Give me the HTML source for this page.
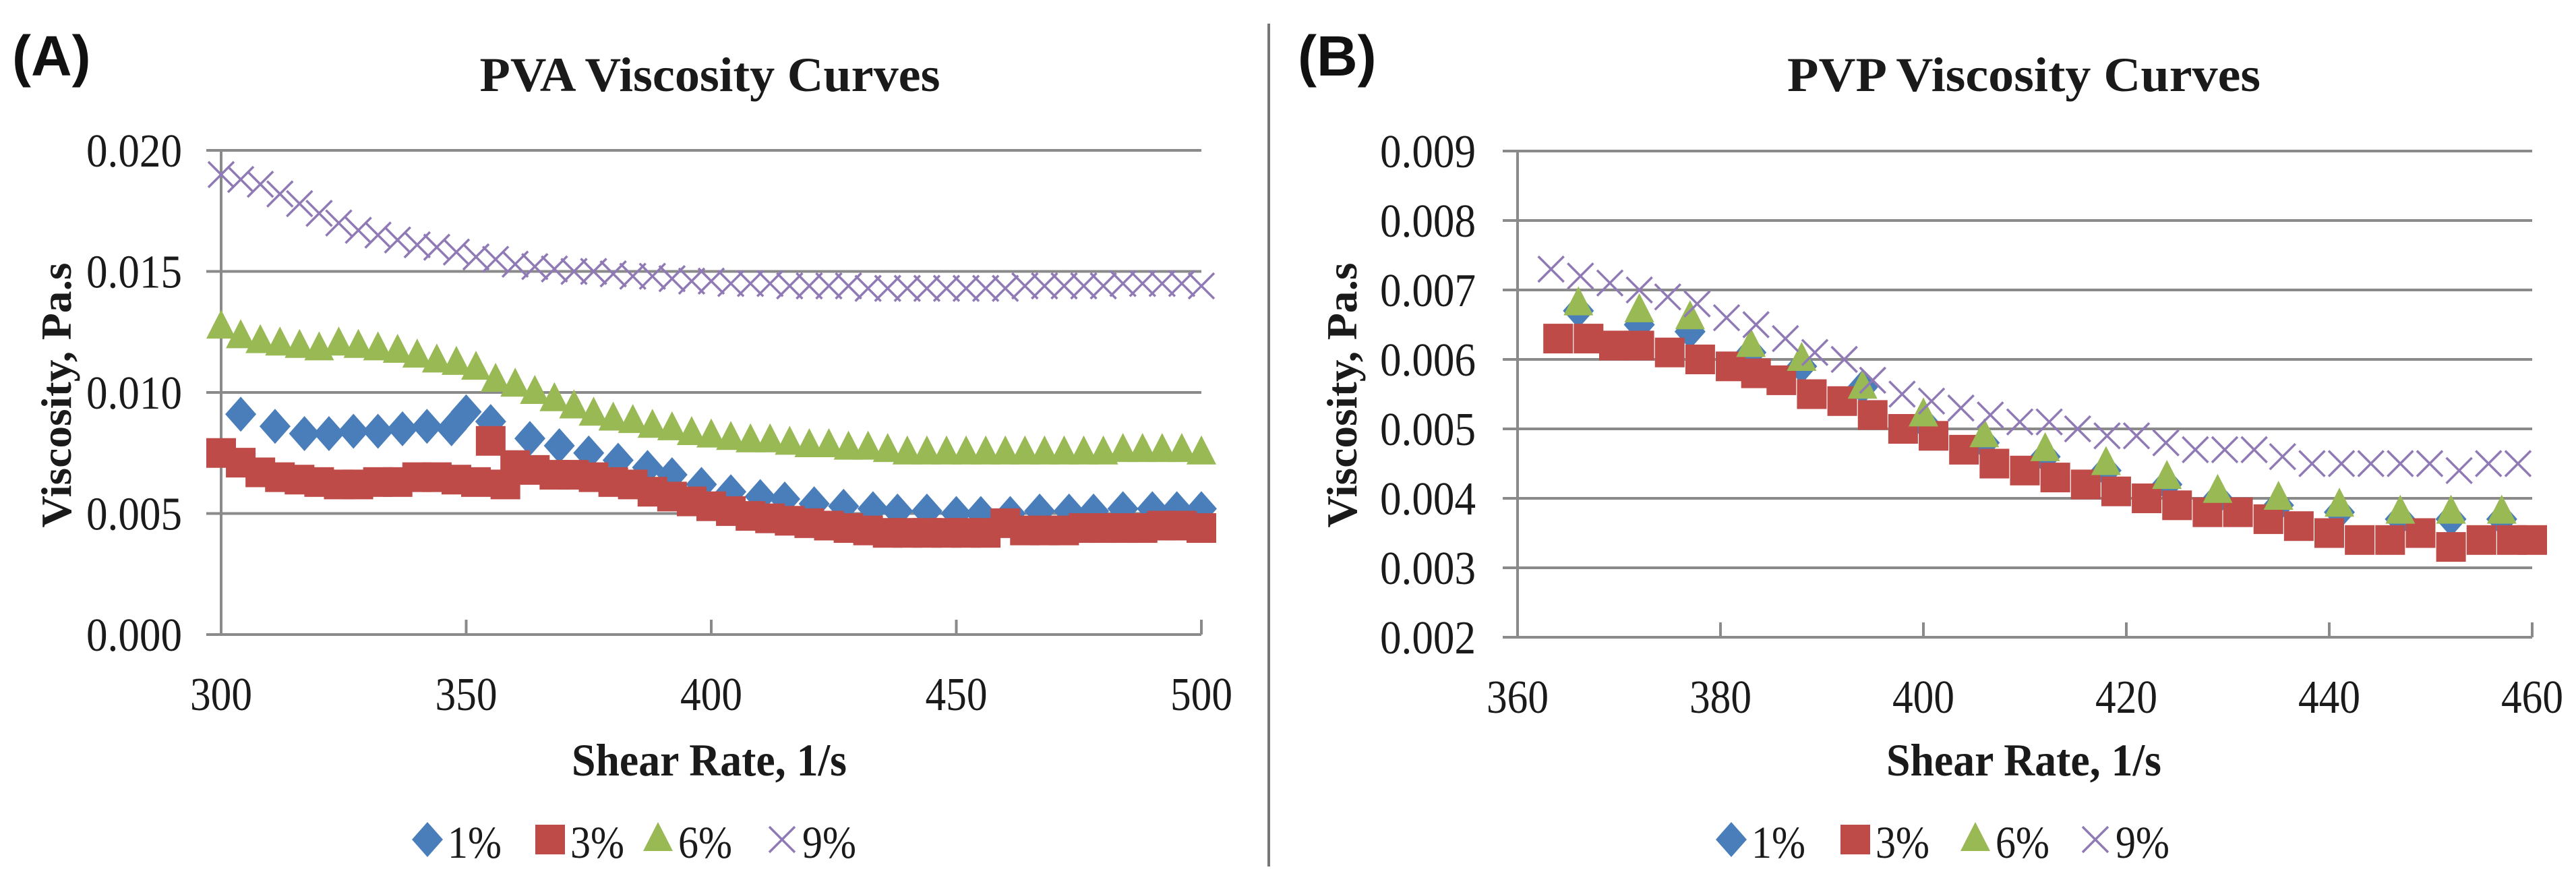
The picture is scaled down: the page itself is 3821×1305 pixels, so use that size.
<!DOCTYPE html>
<html><head><meta charset="utf-8"><style>
html,body{margin:0;padding:0;background:#fff;}
svg{display:block;}
.serif{font-family:"Liberation Serif","DejaVu Serif",serif;}
.sans{font-family:"Liberation Sans","DejaVu Sans",sans-serif;}
</style></head><body>
<svg id="fig" width="3821" height="1305" viewBox="0 0 3821 1305" xmlns="http://www.w3.org/2000/svg">
<rect width="3821" height="1305" fill="#fff"/>
<line x1="1882" y1="35" x2="1882" y2="1285" stroke="#777" stroke-width="4"/>
<text class="sans" x="18" y="112" font-weight="bold" font-size="84" fill="#111">(A)</text>
<text class="sans" x="1925" y="112" font-weight="bold" font-size="84" fill="#111">(B)</text>
<g id="chartA"></g>
<g id="chartB"></g>
</svg>
<script>
// ---- PVA data ----
const pvaXTicks = [300, 350, 400, 450, 500];
const pvaYTicks = [0.000, 0.005, 0.010, 0.015, 0.020];
const pvaYLabels = ["0.000", "0.005", "0.010", "0.015", "0.020"];
const pva1X = [304,311,317,322,327,332,337,342,347,350,355,363,369,375,381,387,392,398,404,410,415,421,427,433,438,444,450,455,461,467,473,478,484,490,495,500];
const pva1Y = [0.0091,0.0086,0.0083,0.0083,0.0084,0.0084,0.0085,0.0086,0.0085,0.0092,0.0088,0.0081,0.0078,0.0075,0.0072,0.0069,0.0066,0.0062,0.0059,0.0057,0.0056,0.0054,0.0053,0.0052,0.0051,0.0051,0.0050,0.0050,0.0050,0.0051,0.0051,0.0051,0.0052,0.0052,0.0052,0.0052];
const pva3X = [300,304,308,312,316,320,324,328,332,336,340,344,348,352,355,358,360,364,368,372,376,380,384,388,392,396,400,404,408,412,416,420,424,428,432,436,440,444,448,452,456,460,464,468,472,476,480,484,488,492,496,500];
const pva3Y = [0.0075,0.0071,0.0067,0.0065,0.0064,0.0063,0.0062,0.0062,0.0063,0.0063,0.0065,0.0065,0.0064,0.0063,0.0080,0.0062,0.0070,0.0068,0.0066,0.0066,0.0065,0.0063,0.0062,0.0059,0.0057,0.0055,0.0053,0.0051,0.0049,0.0048,0.0047,0.0046,0.0045,0.0044,0.0043,0.0042,0.0042,0.0042,0.0042,0.0042,0.0042,0.0046,0.0043,0.0043,0.0043,0.0044,0.0044,0.0044,0.0044,0.0045,0.0045,0.0044];
const pva6X = [300,304,308,312,316,320,324,328,332,336,340,344,348,352,356,360,364,368,372,376,380,384,388,392,396,400,404,408,412,416,420,424,428,432,436,440,444,448,452,456,460,464,468,472,476,480,484,488,492,496,500];
const pva6Y = [0.0127,0.0123,0.0121,0.0120,0.0119,0.0118,0.0120,0.0119,0.0118,0.0117,0.0115,0.0113,0.0112,0.0110,0.0105,0.0103,0.0100,0.0097,0.0094,0.0091,0.0089,0.0088,0.0086,0.0085,0.0083,0.0082,0.0081,0.0080,0.0080,0.0079,0.0078,0.0078,0.0077,0.0077,0.0076,0.0075,0.0075,0.0075,0.0075,0.0075,0.0075,0.0075,0.0075,0.0075,0.0075,0.0075,0.0076,0.0076,0.0076,0.0076,0.0075];
const pva9X = [300,304,308,312,316,320,324,328,332,336,340,344,348,352,356,360,364,368,372,376,380,384,388,392,396,400,404,408,412,416,420,424,428,432,436,440,444,448,452,456,460,464,468,472,476,480,484,488,492,496,500];
const pva9Y = [0.0190,0.0188,0.0186,0.0182,0.0178,0.0174,0.0170,0.0167,0.0165,0.0163,0.0161,0.0160,0.0158,0.0156,0.0155,0.0153,0.0152,0.0151,0.0150,0.0150,0.0149,0.0148,0.0148,0.0147,0.0146,0.0146,0.0145,0.0145,0.0145,0.0144,0.0144,0.0144,0.0144,0.0143,0.0143,0.0143,0.0143,0.0143,0.0143,0.0143,0.0143,0.0144,0.0144,0.0144,0.0144,0.0144,0.0145,0.0145,0.0145,0.0145,0.0144];
// ---- PVP data ----
const pvpXTicks = [360, 380, 400, 420, 440, 460];
const pvpYTicks = [0.002,0.003,0.004,0.005,0.006,0.007,0.008,0.009];
const pvpYLabels = ["0.002","0.003","0.004","0.005","0.006","0.007","0.008","0.009"];
const pvp16X = [366,372,377,383,388,394,400,406,412,418,424,429,435,441,447,452,457];
const pvp1Y = [0.0067,0.0065,0.0064,0.0061,0.0059,0.0056,0.0051,0.0048,0.0046,0.0044,0.0042,0.0040,0.0039,0.0038,0.0037,0.0037,0.0037];
const pvp6Y = [0.0068,0.0067,0.0066,0.0062,0.0060,0.0056,0.0052,0.0049,0.0047,0.0045,0.0043,0.0041,0.0040,0.0039,0.0038,0.0038,0.0038];
const pvp3X = [364,367,369.5,372,375,378,381,383.5,386,389,392,395,398,401,404,407,410,413,416,419,422,425,428,431,434,437,440,443,446,449,452,455,458,460];
const pvp3Y = [0.0063,0.0063,0.0062,0.0062,0.0061,0.0060,0.0059,0.0058,0.0057,0.0055,0.0054,0.0052,0.0050,0.0049,0.0047,0.0045,0.0044,0.0043,0.0042,0.0041,0.0040,0.0039,0.0038,0.0038,0.0037,0.0036,0.0035,0.0034,0.0034,0.0035,0.0033,0.0034,0.0034,0.0034];
const pvp9X = [363.3,366.2,369.1,372,374.8,377.7,380.6,383.5,386.4,389.3,392.2,395,397.9,400.8,403.7,406.6,409.5,412.4,415.2,418.1,421,423.9,426.8,429.7,432.6,435.4,438.3,441.2,444.1,447,449.9,452.8,455.7,458.6];
const pvp9Y = [0.0073,0.0072,0.0071,0.0070,0.0069,0.0068,0.0066,0.0065,0.0063,0.0061,0.0060,0.0057,0.0055,0.0054,0.0053,0.0052,0.0051,0.0051,0.0050,0.0049,0.0049,0.0048,0.0047,0.0047,0.0047,0.0046,0.0045,0.0045,0.0045,0.0045,0.0045,0.0044,0.0045,0.0045];

const NS = "http://www.w3.org/2000/svg";
const COL = {d:"#4a7ebb", s:"#be4b48", t:"#98b954", x:"#8f7ab5"};
function mk(tag, attrs, parent){
  const e = document.createElementNS(NS, tag);
  for (const k in attrs) e.setAttribute(k, attrs[k]);
  parent.appendChild(e);
  return e;
}
function marker(g, kind, cx, cy, name){
  let e;
  if (kind==="d") e = mk("polygon",{points:`${cx},${cy-26} ${cx+23},${cy} ${cx},${cy+26} ${cx-23},${cy}`,fill:COL.d},g);
  else if (kind==="s") e = mk("rect",{x:cx-22,y:cy-22,width:44,height:44,fill:COL.s},g);
  else if (kind==="t") e = mk("polygon",{points:`${cx},${cy-26} ${cx+22},${cy+17} ${cx-22},${cy+17}`,fill:COL.t},g);
  else e = mk("path",{d:`M${cx-19},${cy-19}L${cx+19},${cy+19}M${cx-19},${cy+19}L${cx+19},${cy-19}`,stroke:COL.x,"stroke-width":3.5,fill:"none"},g);
  
  
  return e;
}
function txt(g, s, x, y, size, opts){
  const e = mk("text",{x:x,y:y,"class":"serif","font-size":size,fill:"#1a1a1a"},g);
  for (const k in (opts||{})) e.setAttribute(k, opts[k]);
  e.textContent = s;
  return e;
}
function chart(gid, cfg){
  const g = document.getElementById(gid);
  const {x0,x1,y0,y1,xmin,xmax,ymin,ymax} = cfg;
  const sx = v => x0 + (v-xmin)/(xmax-xmin)*(x1-x0);
  const sy = v => y0 - (v-ymin)/(ymax-ymin)*(y0-y1);
  cfg.yTicks.forEach((v,i)=>{
    const gl = mk("line",{x1:x0-22,x2:x1,y1:sy(v),y2:sy(v),stroke:"#8a8a8a","stroke-width":4},g);
    
    
    const t = txt(g, cfg.yLabels[i], cfg.yLabelRight, sy(v)+24, 70, {"text-anchor":"end",textLength:142,lengthAdjust:"spacingAndGlyphs"});
    
    
  });
  const ax = mk("line",{x1:x0,x2:x0,y1:y1,y2:y0,stroke:"#8a8a8a","stroke-width":4},g);
  
  
  cfg.xTicks.forEach(v=>{
    const tk = mk("line",{x1:sx(v),x2:sx(v),y1:y0-22,y2:y0,stroke:"#8a8a8a","stroke-width":4},g);
    
    
    const t = txt(g, String(v), sx(v), y0+112, 70, {"text-anchor":"middle",textLength:92,lengthAdjust:"spacingAndGlyphs"});
    
    
  });
  const series = cfg.series;
  series.forEach(s=>{
    const sg = mk("g",{},g);
    
    
    s.xs.forEach((xv,i)=> marker(sg, s.kind, sx(xv), sy(s.ys[i]), 'point'));
  });
  const tt = txt(g, cfg.title, cfg.titleX, 135, 72, {"font-weight":"bold","text-anchor":"middle",textLength:cfg.titleW,lengthAdjust:"spacingAndGlyphs"});
  
  
  const xt = txt(g, "Shear Rate, 1/s", cfg.xTitleX, 1150, 68, {"font-weight":"bold","text-anchor":"middle",textLength:408,lengthAdjust:"spacingAndGlyphs"});
  
  
  const yt = txt(g, "Viscosity, Pa.s", 0, 0, 64, {"font-weight":"bold","text-anchor":"middle",textLength:393,lengthAdjust:"spacingAndGlyphs",transform:`translate(${cfg.yTitleX},586) rotate(-90)`});
  
  
  const lg = mk("g",{},g);
  
  
  series.forEach((s,i)=>{
    const eg = mk("g",{},lg);
    
    
    marker(eg, s.kind, cfg.legX[i], 1245, 'legend-marker');
    const lt = txt(eg, s.label, cfg.legX[i]+30, 1272, 68, {textLength:80,lengthAdjust:"spacingAndGlyphs"});
    
    
  });
}
chart("chartA",{x0:328,x1:1782,y0:941,y1:223,xmin:300,xmax:500,ymin:0,ymax:0.020,
  xTicks:pvaXTicks,yTicks:pvaYTicks,yLabels:pvaYLabels,yLabelRight:270,
  title:"PVA Viscosity Curves",titleX:1053,titleW:683,xTitleX:1052,yTitleX:105,
  legX:[634,816,976,1160],
  series:[{kind:"d",label:"1%",xs:pva1X,ys:pva1Y},{kind:"s",label:"3%",xs:pva3X,ys:pva3Y},{kind:"t",label:"6%",xs:pva6X,ys:pva6Y},{kind:"x",label:"9%",xs:pva9X,ys:pva9Y}]});
chart("chartB",{x0:2251,x1:3756,y0:945,y1:224,xmin:360,xmax:460,ymin:0.002,ymax:0.009,
  xTicks:pvpXTicks,yTicks:pvpYTicks,yLabels:pvpYLabels,yLabelRight:2189,
  title:"PVP Viscosity Curves",titleX:3002,titleW:702,xTitleX:3002,yTitleX:2012,
  legX:[2568,2752,2930,3108],
  series:[{kind:"d",label:"1%",xs:pvp16X,ys:pvp1Y},{kind:"s",label:"3%",xs:pvp3X,ys:pvp3Y},{kind:"t",label:"6%",xs:pvp16X,ys:pvp6Y},{kind:"x",label:"9%",xs:pvp9X,ys:pvp9Y}]});
</script>
</body></html>
